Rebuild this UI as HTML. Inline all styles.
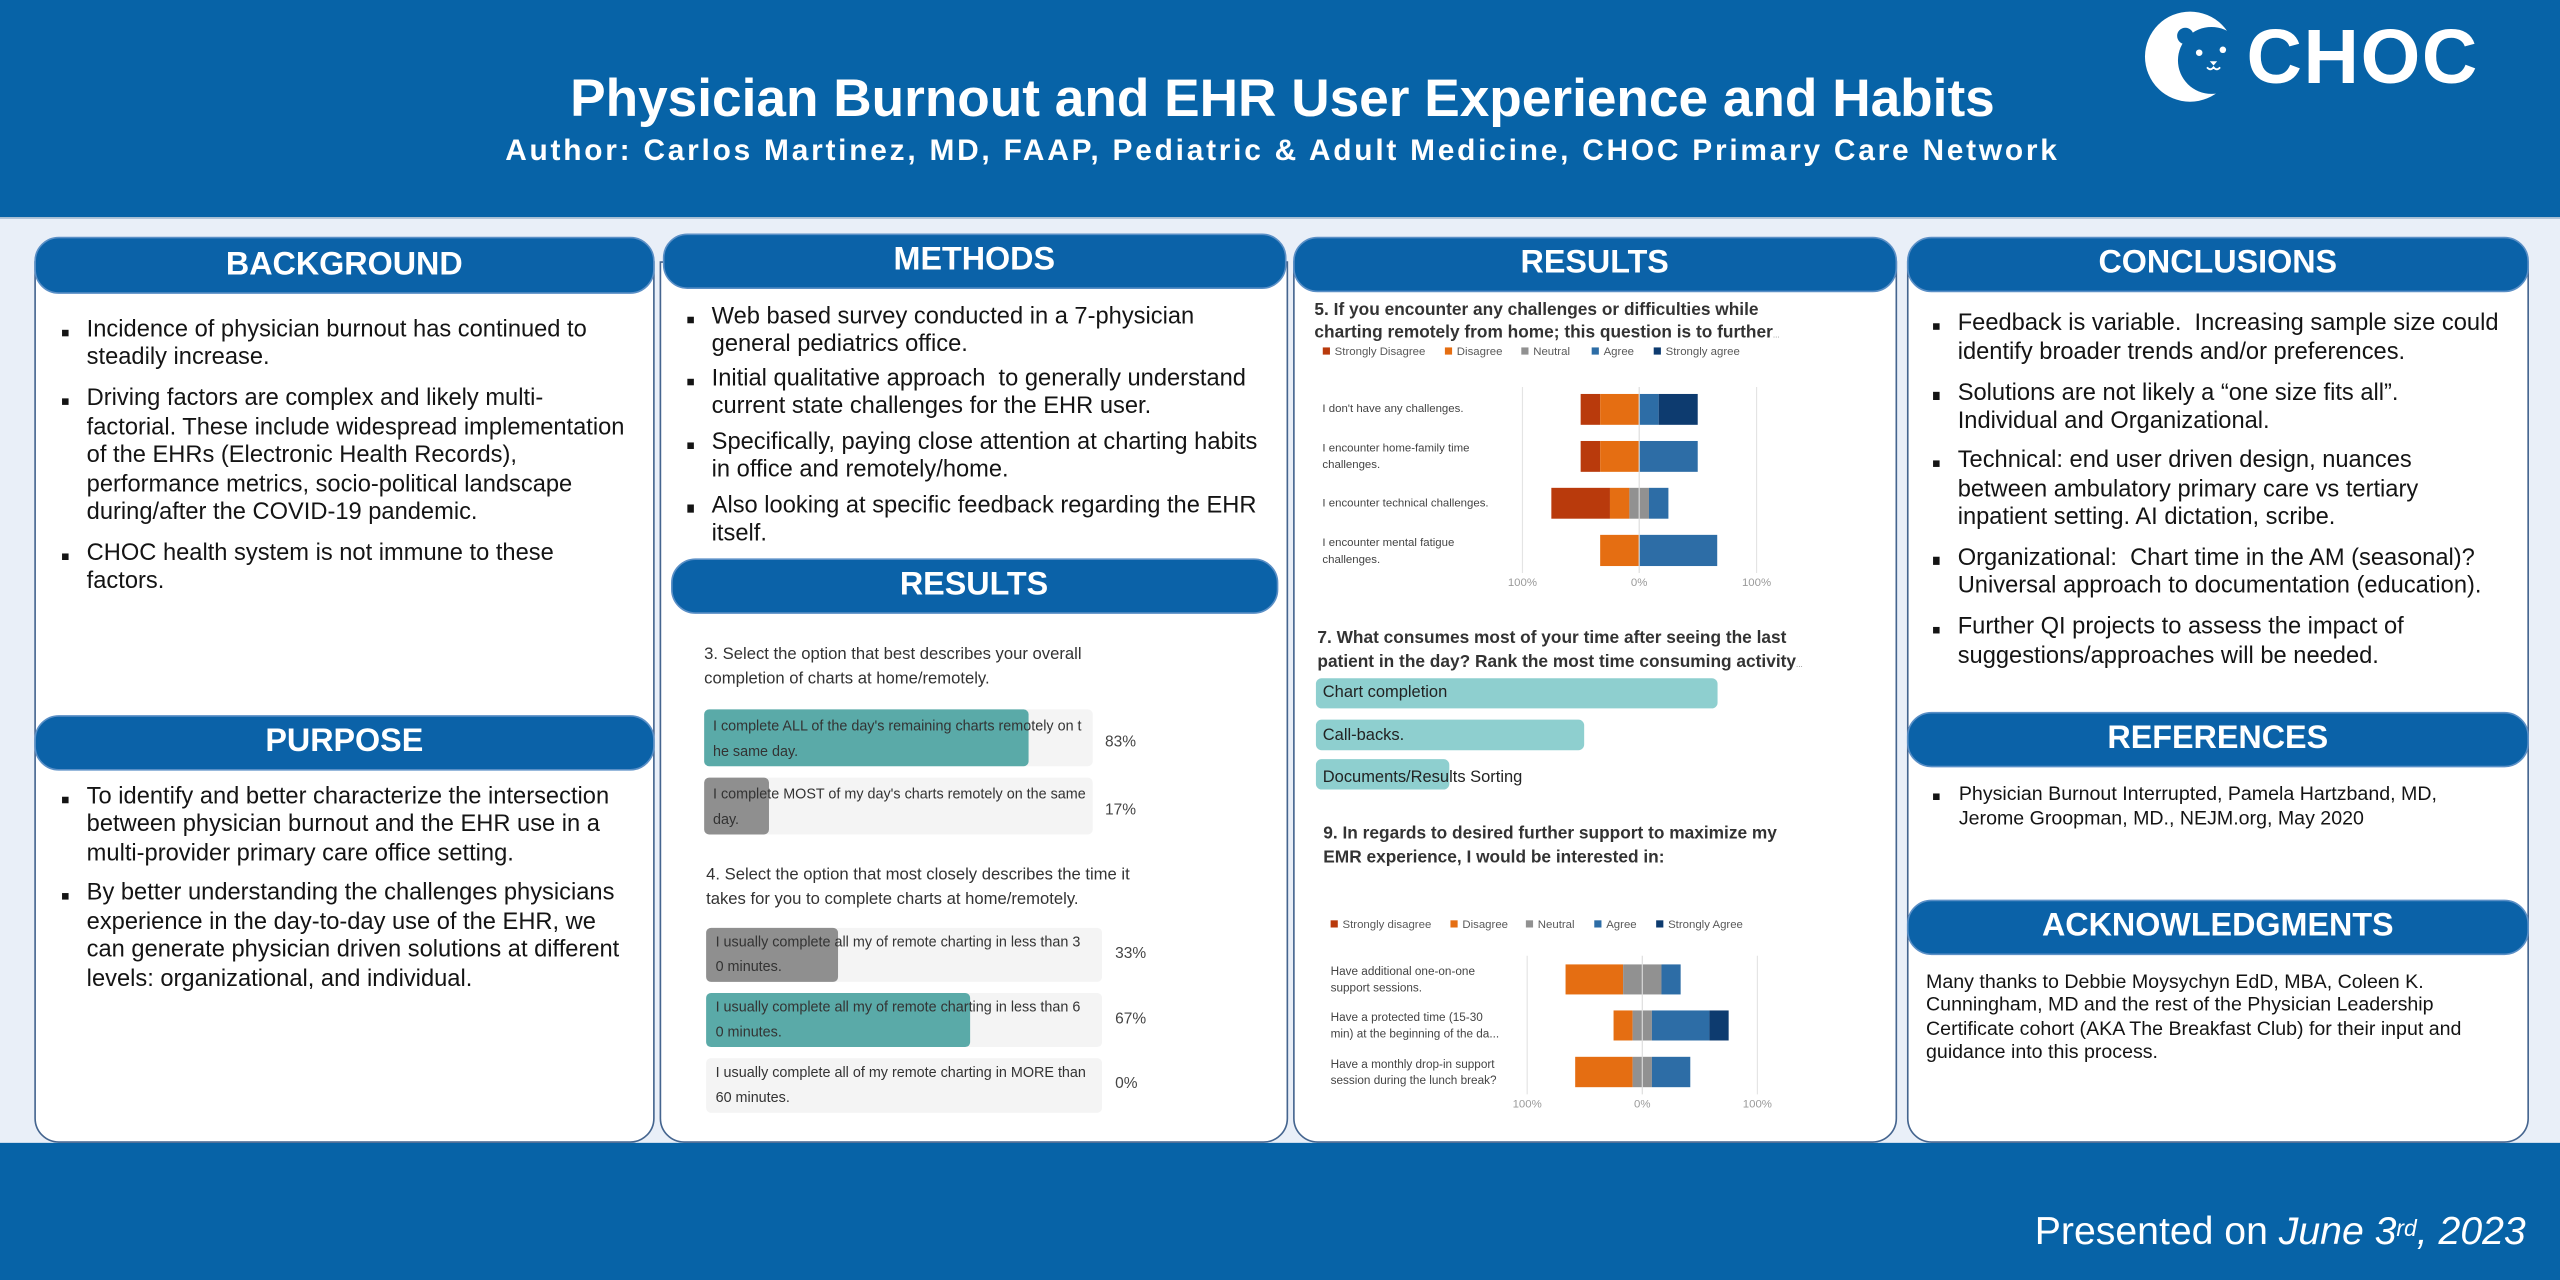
<!DOCTYPE html>
<html><head><meta charset="utf-8"><title>Physician Burnout and EHR User Experience and Habits</title>
<style>
*{box-sizing:border-box;}
html,body{margin:0;padding:0;width:2560px;height:1280px;overflow:hidden;background:#e9eff8;}
#s{position:absolute;left:0;top:0;width:1568px;height:784px;transform:scale(1.6326531);transform-origin:0 0;font-family:"Liberation Sans",Arial,sans-serif;background:#e9eff8;overflow:hidden;}
.hdr{position:absolute;left:0;top:0;width:1568px;height:134px;background:#0763a7;border-bottom:1px solid #c3cedb;}
.ftr{position:absolute;left:0;top:700px;width:1568px;height:84px;background:#0763a7;}
.tt{position:absolute;left:0;width:1571px;text-align:center;color:#fff;font-weight:bold;white-space:nowrap;}
.panel{position:absolute;background:#fff;border:1.4px solid #45658f;border-radius:0 0 15px 15px;}
.bar{position:absolute;background:#0b62a8;border:1.2px solid #5a8fc6;border-radius:15px;color:#fff;font-weight:bold;font-size:19.8px;text-align:center;white-space:nowrap;}
.b{position:absolute;font-size:14.5px;line-height:17.4px;color:#141414;white-space:nowrap;}
.b i{position:absolute;left:-15.2px;top:7.8px;width:4.4px;height:4.4px;background:#141414;}
.s{position:absolute;font-size:12px;line-height:14.2px;color:#141414;white-space:nowrap;}
.s i{position:absolute;left:-15.4px;top:6.2px;width:4px;height:4px;background:#141414;}
.foot{position:absolute;right:21px;top:740.7px;font-size:24px;line-height:28px;color:#fff;white-space:nowrap;}
.foot sup{font-size:14px;vertical-align:top;position:relative;top:-3px;}
</style></head><body><div id="s">

<div class="hdr"></div>
<div class="ftr"></div>

<div class="tt" style="top:41.5px;font-size:32.6px;line-height:36px;">Physician Burnout and EHR User Experience and Habits</div>
<div class="tt" style="top:81.1px;font-size:18.3px;line-height:22px;letter-spacing:1.7px;">Author: Carlos Martinez, MD, FAAP, Pediatric &amp; Adult Medicine, CHOC Primary Care Network</div>

<!-- Panels -->
<div class="panel" style="left:21.2px;top:160px;width:379.4px;height:540px;"></div>
<div class="panel" style="left:404px;top:160px;width:384.5px;height:540px;"></div>
<div class="panel" style="left:791.5px;top:160px;width:370.5px;height:540px;"></div>
<div class="panel" style="left:1167.6px;top:160px;width:381.6px;height:540px;"></div>

<!-- Section bars -->
<div class="bar" style="left:21.2px;top:144.9px;width:379.4px;height:34.7px;line-height:32.3px;">BACKGROUND</div>
<div class="bar" style="left:21.2px;top:437.7px;width:379.4px;height:34px;line-height:31.6px;">PURPOSE</div>
<div class="bar" style="left:405.5px;top:143px;width:382.5px;height:34px;line-height:31.6px;">METHODS</div>
<div class="bar" style="left:410.6px;top:342.4px;width:372px;height:33.7px;line-height:31.3px;">RESULTS</div>
<div class="bar" style="left:791.5px;top:145px;width:370.5px;height:34px;line-height:31.6px;">RESULTS</div>
<div class="bar" style="left:1167.6px;top:144.6px;width:381.6px;height:34px;line-height:31.6px;">CONCLUSIONS</div>
<div class="bar" style="left:1167.6px;top:435.5px;width:381.6px;height:34px;line-height:31.6px;">REFERENCES</div>
<div class="bar" style="left:1167.6px;top:551px;width:381.6px;height:34px;line-height:31.6px;">ACKNOWLEDGMENTS</div>

<!-- Background -->
<div class="b" style="left:53.1px;top:194px;line-height:17.4px;"><i></i>Incidence of physician burnout has continued to<br>steadily increase.</div>
<div class="b" style="left:53.1px;top:236.3px;line-height:17.4px;"><i></i>Driving factors are complex and likely multi-<br>factorial. These include widespread implementation<br>of the EHRs (Electronic Health Records),<br>performance metrics, socio-political landscape<br>during/after the COVID-19 pandemic.</div>
<div class="b" style="left:53.1px;top:330.8px;line-height:17.4px;"><i></i>CHOC health system is not immune to these<br>factors.</div>

<!-- Purpose -->
<div class="b" style="left:53.1px;top:479.8px;"><i></i>To identify and better characterize the intersection<br>between physician burnout and the EHR use in a<br>multi-provider primary care office setting.</div>
<div class="b" style="left:53.1px;top:539.3px;"><i></i>By better understanding the challenges physicians<br>experience in the day-to-day use of the EHR, we<br>can generate physician driven solutions at different<br>levels: organizational, and individual.</div>

<!-- Methods -->
<div class="b" style="left:435.9px;top:186px;"><i></i>Web based survey conducted in a 7-physician<br>general pediatrics office.</div>
<div class="b" style="left:435.9px;top:224px;"><i></i>Initial qualitative approach&nbsp; to generally understand<br>current state challenges for the EHR user.</div>
<div class="b" style="left:435.9px;top:262.8px;"><i></i>Specifically, paying close attention at charting habits<br>in office and remotely/home.</div>
<div class="b" style="left:435.9px;top:301.5px;"><i></i>Also looking at specific feedback regarding the EHR<br>itself.</div>

<!-- Conclusions -->
<div class="b" style="left:1199.1px;top:190.1px;line-height:17.6px;"><i></i>Feedback is variable.&nbsp; Increasing sample size could<br>identify broader trends and/or preferences.</div>
<div class="b" style="left:1199.1px;top:232.6px;line-height:17.6px;"><i></i>Solutions are not likely a “one size fits all”.<br>Individual and Organizational.</div>
<div class="b" style="left:1199.1px;top:274.3px;line-height:17.6px;"><i></i>Technical: end user driven design, nuances<br>between ambulatory primary care vs tertiary<br>inpatient setting. AI dictation, scribe.</div>
<div class="b" style="left:1199.1px;top:333.6px;line-height:17.6px;"><i></i>Organizational:&nbsp; Chart time in the AM (seasonal)?<br>Universal approach to documentation (education).</div>
<div class="b" style="left:1199.1px;top:376.1px;line-height:17.6px;"><i></i>Further QI projects to assess the impact of<br>suggestions/approaches will be needed.</div>

<!-- References -->
<div class="s" style="left:1199.8px;top:479.4px;"><i></i>Physician Burnout Interrupted, Pamela Hartzband, MD,<br>Jerome Groopman, MD., NEJM.org, May 2020</div>

<!-- Acknowledgments -->
<div class="s" style="left:1179.7px;top:593.8px;line-height:14.4px;">Many thanks to Debbie Moysychyn EdD, MBA, Coleen K.<br>Cunningham, MD and the rest of the Physician Leadership<br>Certificate cohort (AKA The Breakfast Club) for their input and<br>guidance into this process.</div>

<!-- Footer -->
<div class="foot">Presented on <i>June 3<sup>rd</sup>, 2023</i></div>

<svg width="1568" height="784" viewBox="0 0 1568 784" style="position:absolute;left:0;top:0;" font-family="Liberation Sans, Arial, sans-serif">
  <!-- CHOC logo -->
  <circle cx="1341.4" cy="34.7" r="27.6" fill="#fff"/>
  <circle cx="1354.5" cy="37" r="20.5" fill="#0763a7"/>
  <circle cx="1338.5" cy="22" r="5" fill="#0763a7"/>
  <circle cx="1347" cy="32.3" r="2" fill="#fff"/>
  <circle cx="1361.5" cy="30.5" r="2" fill="#fff"/>
  <path d="M1353.5 37.5 h4.5 l-2.2 2.6 z" fill="#fff"/>
  <path d="M1351.8 41.2 q2 2.5 4 0 q2 2.5 4 0" stroke="#fff" stroke-width="1.1" fill="none"/>
  <text x="1376" y="51" font-size="47" font-weight="bold" fill="#fff" letter-spacing="1">CHOC</text>

  <!-- Q3 -->
  <g font-size="10.2" fill="#333">
    <text x="431.3" y="403.7">3. Select the option that best describes your overall</text>
    <text x="431.3" y="418.7">completion of charts at home/remotely.</text>
  </g>
  <rect x="431.3" y="434.5" width="238" height="34.8" rx="3" fill="#f4f4f4"/>
  <rect x="431.3" y="434.5" width="198.7" height="34.8" rx="3" fill="#5aaaa8"/>
  <rect x="431.3" y="476.3" width="238" height="34.8" rx="3" fill="#f4f4f4"/>
  <rect x="431.3" y="476.3" width="39.7" height="34.8" rx="3" fill="#8f8f8f"/>
  <g font-size="8.8" fill="#333">
    <text x="436.7" y="447.3">I complete ALL of the day's remaining charts remotely on t</text>
    <text x="436.7" y="463">he same day.</text>
    <text x="436.7" y="489.1">I complete MOST of my day's charts remotely on the same</text>
    <text x="436.7" y="504.8">day.</text>
  </g>
  <g font-size="9.5" fill="#444">
    <text x="676.8" y="457.1">83%</text>
    <text x="676.8" y="499">17%</text>
  </g>

  <!-- Q4 -->
  <g font-size="10.2" fill="#333">
    <text x="432.5" y="538.7">4. Select the option that most closely describes the time it</text>
    <text x="432.5" y="553.7">takes for you to complete charts at home/remotely.</text>
  </g>
  <rect x="432.5" y="568.3" width="242.5" height="33.1" rx="3" fill="#f4f4f4"/>
  <rect x="432.5" y="568.3" width="80.8" height="33.1" rx="3" fill="#8f8f8f"/>
  <rect x="432.5" y="608.2" width="242.5" height="33.1" rx="3" fill="#f4f4f4"/>
  <rect x="432.5" y="608.2" width="161.7" height="33.1" rx="3" fill="#5aaaa8"/>
  <rect x="432.5" y="648.1" width="242.5" height="33.5" rx="3" fill="#f4f4f4"/>
  <g font-size="8.8" fill="#333">
    <text x="438.3" y="579.6">I usually complete all my of remote charting in less than 3</text>
    <text x="438.3" y="594.8">0 minutes.</text>
    <text x="438.3" y="619.7">I usually complete all my of remote charting in less than 6</text>
    <text x="438.3" y="635">0 minutes.</text>
    <text x="438.3" y="659.8">I usually complete all of my remote charting in MORE than</text>
    <text x="438.3" y="675.1">60 minutes.</text>
  </g>
  <g font-size="9.5" fill="#444">
    <text x="683" y="586.7">33%</text>
    <text x="683" y="626.8">67%</text>
    <text x="683" y="666.5">0%</text>
  </g>

  <!-- Q5 -->
  <g font-size="10.6" font-weight="bold" fill="#333">
    <text x="805.1" y="192.8">5. If you encounter any challenges or difficulties while</text>
    <text x="805.1" y="206.8">charting remotely from home; this question is to further<tspan font-size="5" font-weight="normal" fill="#888">...</tspan></text>
  </g>
  <g>
    <rect x="810.2" y="212.8" width="4.4" height="4.4" fill="#b93a0c"/>
    <rect x="885" y="212.8" width="4.4" height="4.4" fill="#e56e12"/>
    <rect x="931.8" y="212.8" width="4.4" height="4.4" fill="#919191"/>
    <rect x="974.9" y="212.8" width="4.4" height="4.4" fill="#2d6da6"/>
    <rect x="1012.9" y="212.8" width="4.4" height="4.4" fill="#0d3b6f"/>
  </g>
  <g font-size="7" fill="#595959">
    <text x="817.5" y="217.5">Strongly Disagree</text>
    <text x="892.3" y="217.5">Disagree</text>
    <text x="939.1" y="217.5">Neutral</text>
    <text x="982.2" y="217.5">Agree</text>
    <text x="1020.2" y="217.5">Strongly agree</text>
  </g>
  <g stroke="#e4e4e4" stroke-width="0.7">
    <line x1="932.5" y1="237" x2="932.5" y2="351"/>
    <line x1="1075.9" y1="237" x2="1075.9" y2="351"/>
  </g>
  <!-- row1 -->
  <rect x="968.15" y="241.3" width="11.95" height="18.9" fill="#b93a0c"/>
  <rect x="980.1" y="241.3" width="23.9" height="18.9" fill="#e56e12"/>
  <rect x="1004" y="241.3" width="11.95" height="18.9" fill="#2d6da6"/>
  <rect x="1015.95" y="241.3" width="23.9" height="18.9" fill="#0d3b6f"/>
  <!-- row2 -->
  <rect x="968.15" y="270.1" width="11.95" height="18.9" fill="#b93a0c"/>
  <rect x="980.1" y="270.1" width="23.9" height="18.9" fill="#e56e12"/>
  <rect x="1004" y="270.1" width="35.85" height="18.9" fill="#2d6da6"/>
  <!-- row3 -->
  <rect x="950.2" y="298.8" width="35.9" height="18.9" fill="#b93a0c"/>
  <rect x="986.1" y="298.8" width="11.9" height="18.9" fill="#e56e12"/>
  <rect x="998" y="298.8" width="12" height="18.9" fill="#919191"/>
  <rect x="1010" y="298.8" width="11.9" height="18.9" fill="#2d6da6"/>
  <!-- row4 -->
  <rect x="980.1" y="327.6" width="23.9" height="19.1" fill="#e56e12"/>
  <rect x="1004" y="327.6" width="47.8" height="19.1" fill="#2d6da6"/>
  <line x1="1004" y1="237" x2="1004" y2="351" stroke="#dcdcdc" stroke-width="0.7"/>
  <g font-size="7" fill="#444">
    <text x="810" y="252.4">I don't have any challenges.</text>
    <text x="810" y="276.6">I encounter home-family time</text>
    <text x="810" y="286.7">challenges.</text>
    <text x="810" y="310.3">I encounter technical challenges.</text>
    <text x="810" y="334.5">I encounter mental fatigue</text>
    <text x="810" y="344.8">challenges.</text>
  </g>
  <g font-size="7" fill="#9a9a9a" text-anchor="middle">
    <text x="932.5" y="359">100%</text>
    <text x="1004" y="359">0%</text>
    <text x="1075.9" y="359">100%</text>
  </g>

  <!-- Q7 -->
  <g font-size="10.6" font-weight="bold" fill="#333">
    <text x="806.9" y="393.9">7. What consumes most of your time after seeing the last</text>
    <text x="806.9" y="408.5">patient in the day? Rank the most time consuming activity<tspan font-size="5" font-weight="normal" fill="#888">...</tspan></text>
  </g>
  <rect x="806" y="415.4" width="246" height="18.5" rx="3.5" fill="#8ecfcf"/>
  <rect x="806" y="440.8" width="164.3" height="18.7" rx="3.5" fill="#8ecfcf"/>
  <rect x="806" y="465" width="81.7" height="18.6" rx="3.5" fill="#8ecfcf"/>
  <g font-size="10.1" fill="#222">
    <text x="810.2" y="427">Chart completion</text>
    <text x="810.2" y="453.3">Call-backs.</text>
    <text x="810.2" y="478.9">Documents/Results Sorting</text>
  </g>

  <!-- Q9 -->
  <g font-size="10.6" font-weight="bold" fill="#333">
    <text x="810.5" y="513.7">9. In regards to desired further support to maximize my</text>
    <text x="810.5" y="528.4">EMR experience, I would be interested in:</text>
  </g>
  <g>
    <rect x="815" y="563.7" width="4.4" height="4.4" fill="#b93a0c"/>
    <rect x="888.4" y="563.7" width="4.4" height="4.4" fill="#e56e12"/>
    <rect x="934.6" y="563.7" width="4.4" height="4.4" fill="#919191"/>
    <rect x="976.5" y="563.7" width="4.4" height="4.4" fill="#2d6da6"/>
    <rect x="1014.4" y="563.7" width="4.4" height="4.4" fill="#0d3b6f"/>
  </g>
  <g font-size="7" fill="#595959">
    <text x="822.3" y="568.4">Strongly disagree</text>
    <text x="895.7" y="568.4">Disagree</text>
    <text x="941.9" y="568.4">Neutral</text>
    <text x="983.8" y="568.4">Agree</text>
    <text x="1021.7" y="568.4">Strongly Agree</text>
  </g>
  <g stroke="#e4e4e4" stroke-width="0.7">
    <line x1="935.4" y1="585.4" x2="935.4" y2="670.3"/>
    <line x1="1076.4" y1="585.4" x2="1076.4" y2="670.3"/>
  </g>
  <!-- row1 -->
  <rect x="958.9" y="590.7" width="35.25" height="18.4" fill="#e56e12"/>
  <rect x="994.15" y="590.7" width="23.5" height="18.4" fill="#919191"/>
  <rect x="1017.65" y="590.7" width="11.75" height="18.4" fill="#2d6da6"/>
  <!-- row2 -->
  <rect x="988.3" y="618.9" width="11.7" height="18.4" fill="#e56e12"/>
  <rect x="1000" y="618.9" width="11.8" height="18.4" fill="#919191"/>
  <rect x="1011.8" y="618.9" width="35.2" height="18.4" fill="#2d6da6"/>
  <rect x="1047" y="618.9" width="11.8" height="18.4" fill="#0d3b6f"/>
  <!-- row3 -->
  <rect x="964.8" y="647.3" width="35.2" height="18.6" fill="#e56e12"/>
  <rect x="1000" y="647.3" width="11.8" height="18.6" fill="#919191"/>
  <rect x="1011.8" y="647.3" width="23.5" height="18.6" fill="#2d6da6"/>
  <line x1="1005.9" y1="585.4" x2="1005.9" y2="670.3" stroke="#dcdcdc" stroke-width="0.7"/>
  <g font-size="7.2" fill="#444">
    <text x="815" y="597.3">Have additional one-on-one</text>
    <text x="815" y="607.3">support sessions.</text>
    <text x="815" y="625.5">Have a protected time (15-30</text>
    <text x="815" y="635.4">min) at the beginning of the da...</text>
    <text x="815" y="654.1">Have a monthly drop-in support</text>
    <text x="815" y="663.9">session during the lunch break?</text>
  </g>
  <g font-size="7" fill="#9a9a9a" text-anchor="middle">
    <text x="935.4" y="678.3">100%</text>
    <text x="1005.9" y="678.3">0%</text>
    <text x="1076.4" y="678.3">100%</text>
  </g>
</svg>
</div></body></html>
